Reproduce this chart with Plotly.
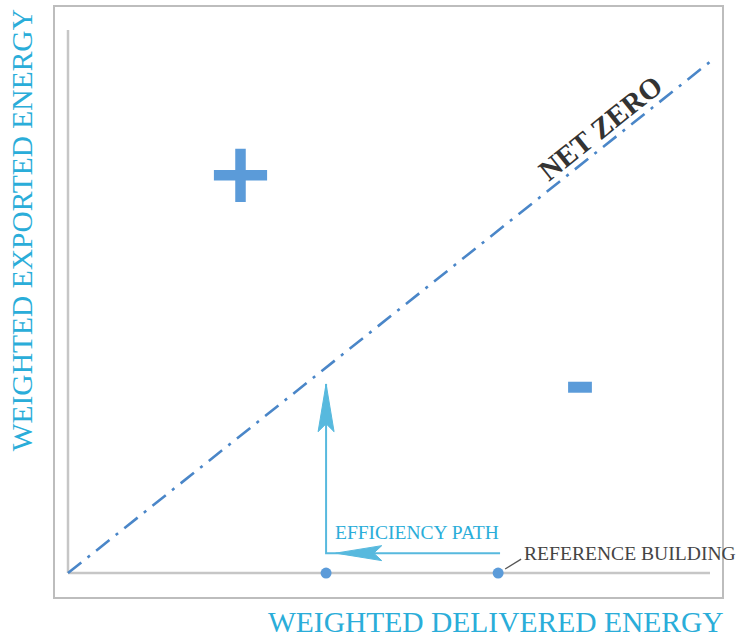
import math
import plotly.graph_objects as go

# ---- data (abstract diagram units) ----
AXIS_X = [0, 10]            # delivered energy axis extent
AXIS_Y = [0, 10.62]         # exported energy axis extent
NET_ZERO_X = [0, 10]
NET_ZERO_Y = [0, 10]
POINTS_X = [4.02, 6.70]     # efficient building, reference building
POINTS_Y = [0, 0]
PATH_X = [6.73, 4.02, 4.02] # efficiency path (L-shaped)
PATH_Y = [0.39, 0.39, 3.70]
PLUS_XY = (2.687, 7.78)
MINUS_XY = (7.975, 3.635)
NET_ZERO_LABEL_XY = (8.29, 8.71)
EFF_LABEL_XY = (4.13, 0.80)

W, H = 736, 639
ML, MR, MT, MB = 55, 14, 5, 42
XR = [-0.2025, 10.187]
YR = [-0.468, 11.072]
SX = (W - ML - MR) / (XR[1] - XR[0])   # px per x unit
SY = (H - MT - MB) / (YR[1] - YR[0])   # px per y unit

AX_GRAY = "#c6c6c6"
FRAME_GRAY = "#bdbdbd"
LINE_BLUE = "#4a86c8"
MARK_BLUE = "#5b9bd9"
ARROW_CYAN = "#57b9de"
TITLE_CYAN = "#2aadd9"
SERIF = "Liberation Serif, Times New Roman, serif"


def arrowhead(tip, direction, length, half_w, notch):
    """Polygon (data coords) of a stealth arrowhead; sizes in px."""
    dx, dy = direction
    n = math.hypot(dx, dy)
    dx, dy = dx / n, dy / n
    nx, ny = -dy, dx
    pts_px = [(0, 0),
              (-length * dx + half_w * nx, -length * dy + half_w * ny),
              (-(length - notch) * dx, -(length - notch) * dy),
              (-length * dx - half_w * nx, -length * dy - half_w * ny),
              (0, 0)]
    xs = [tip[0] + p[0] / SX for p in pts_px]
    ys = [tip[1] + p[1] / SY for p in pts_px]
    return xs, ys


fig = go.Figure()

# axes of the diagram
fig.add_trace(go.Scatter(x=AXIS_X, y=[0, 0], mode="lines",
                         line=dict(color=AX_GRAY, width=2.5), hoverinfo="skip"))
fig.add_trace(go.Scatter(x=[0, 0], y=AXIS_Y, mode="lines",
                         line=dict(color=AX_GRAY, width=2.5), hoverinfo="skip"))

# net zero line
fig.add_trace(go.Scatter(x=NET_ZERO_X, y=NET_ZERO_Y, mode="lines",
                         line=dict(color=LINE_BLUE, width=2.6, dash="17px,8px,3px,8px"),
                         hoverinfo="skip"))

# efficiency path
fig.add_trace(go.Scatter(x=PATH_X, y=PATH_Y, mode="lines",
                         line=dict(color=ARROW_CYAN, width=2), hoverinfo="skip"))
hx, hy = arrowhead((PATH_X[1] + 0.15, PATH_Y[1]), (-1, 0), 46, 7.5, 8)
fig.add_trace(go.Scatter(x=hx, y=hy, mode="lines", fill="toself", fillcolor=ARROW_CYAN,
                         line=dict(color=ARROW_CYAN, width=1), hoverinfo="skip"))
vx, vy = arrowhead((PATH_X[2], PATH_Y[2]), (0, 1), 48, 8, 8)
fig.add_trace(go.Scatter(x=vx, y=vy, mode="lines", fill="toself", fillcolor=ARROW_CYAN,
                         line=dict(color=ARROW_CYAN, width=1), hoverinfo="skip"))

# points on the delivered axis
fig.add_trace(go.Scatter(x=POINTS_X, y=POINTS_Y, mode="markers",
                         marker=dict(color=MARK_BLUE, size=11), hoverinfo="skip"))

# leader line for reference building
ref = (POINTS_X[1], POINTS_Y[1])
fig.add_trace(go.Scatter(x=[ref[0] + 7 / SX, ref[0] + 23 / SX],
                         y=[ref[1] + 4 / SY, ref[1] + 14 / SY], mode="lines",
                         line=dict(color="#555555", width=1.2), hoverinfo="skip"))

# plus / minus signs
fig.add_trace(go.Scatter(x=[PLUS_XY[0]], y=[PLUS_XY[1]], mode="markers",
                         marker=dict(symbol="cross-thin", size=38,
                                     line=dict(color=MARK_BLUE, width=10.5)),
                         hoverinfo="skip"))
fig.add_trace(go.Scatter(x=[MINUS_XY[0]], y=[MINUS_XY[1]], mode="markers",
                         marker=dict(symbol="line-ew", size=17,
                                     line=dict(color=MARK_BLUE, width=11)),
                         hoverinfo="skip"))

angle = math.degrees(math.atan2(SY, SX))

annotations = [
    dict(x=NET_ZERO_LABEL_XY[0], y=NET_ZERO_LABEL_XY[1], text="<b>NET ZERO</b>",
         textangle=-angle, showarrow=False,
         font=dict(family=SERIF, size=29, color="#333333")),
    dict(x=EFF_LABEL_XY[0], y=EFF_LABEL_XY[1], text="EFFICIENCY PATH",
         xanchor="left", yanchor="middle", showarrow=False,
         font=dict(family=SERIF, size=19.5, color=TITLE_CYAN)),
    dict(x=ref[0] + 24 / SX, y=ref[1] + 20 / SY, text="REFERENCE BUILDING",
         xanchor="left", yanchor="middle", showarrow=False,
         font=dict(family=SERIF, size=19.6, color="#444444")),
    dict(x=1.006, xref="paper", xanchor="right", y=-0.043, yref="paper", yanchor="middle",
         text="WEIGHTED DELIVERED ENERGY", showarrow=False,
         font=dict(family=SERIF, size=29.5, color=TITLE_CYAN)),
    dict(x=-0.049, xref="paper", xanchor="center", y=1.0, yref="paper", yanchor="top",
         text="WEIGHTED EXPORTED ENERGY", textangle=-90, showarrow=False,
         font=dict(family=SERIF, size=29.5, color=TITLE_CYAN)),
]

fig.update_layout(
    width=W, height=H,
    margin=dict(l=ML, r=MR, t=MT, b=MB),
    paper_bgcolor="white", plot_bgcolor="white",
    showlegend=False,
    annotations=annotations,
    xaxis=dict(range=XR, showgrid=False, zeroline=False, showticklabels=False,
               ticks="", showline=True, mirror=True, linecolor=FRAME_GRAY, linewidth=2,
               fixedrange=True),
    yaxis=dict(range=YR, showgrid=False, zeroline=False, showticklabels=False,
               ticks="", showline=True, mirror=True, linecolor=FRAME_GRAY, linewidth=2,
               fixedrange=True),
)

fig.write_html("out.html", config={"displayModeBar": False},
               post_script="document.body.style.margin='0px';")
